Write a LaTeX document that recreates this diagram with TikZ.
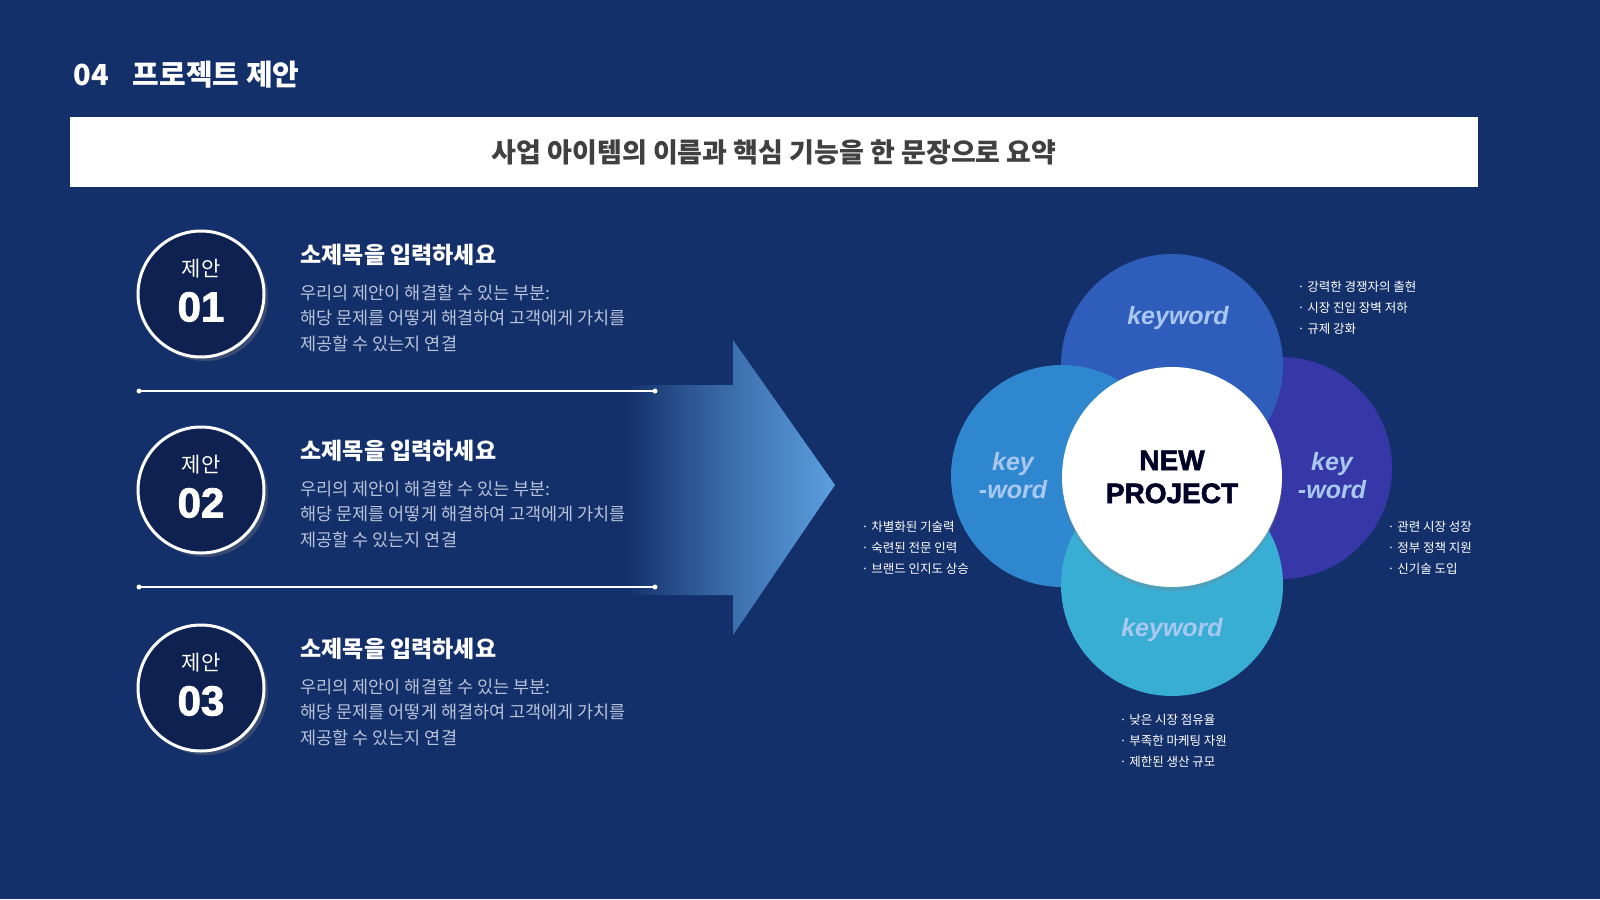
\documentclass[tikz,border=0pt]{standalone}
\usepackage{fontspec}
\setmainfont{Noto Sans CJK KR}
\newfontfamily\lat{Liberation Sans}
\newfontfamily\heavy[FakeBold=2]{Liberation Sans Bold}
\usetikzlibrary{shadows}
\definecolor{bg}{HTML}{14306A}
\definecolor{navy}{HTML}{0F2150}
\definecolor{body}{HTML}{B8C3DA}
\definecolor{kw}{HTML}{A9C8F0}
\definecolor{ctop}{HTML}{2F5DBB}
\definecolor{cleft}{HTML}{2F88CF}
\definecolor{cright}{HTML}{3638A8}
\definecolor{cbot}{HTML}{38AED5}
\definecolor{arr}{HTML}{5C9FE0}
\begin{document}
\begin{tikzpicture}[x=1pt,y=-1pt,
  num/.style={circle,minimum size=126pt,fill=navy,draw=white,line width=3pt,
    drop shadow={shadow xshift=4pt,shadow yshift=-4pt,opacity=.35}},
  sub/.style={anchor=west,text=white,font=\fontsize{23}{26}\selectfont\bfseries},
  bod/.style={anchor=north west,text=body,align=left,font=\fontsize{17.5}{25.5}\selectfont},
  petal/.style={circle,minimum size=222pt,inner sep=0pt},
  kwt/.style={text=kw,align=center,font=\lat\fontsize{25}{28}\selectfont\bfseries\itshape},
  note/.style={anchor=north west,text=white,align=left,font=\fontsize{12.5}{21}\selectfont},
  sep/.style={white,line width=1.5pt}]
\useasboundingbox (0,0) rectangle (1600,899);
\fill[bg] (0,0) rectangle (1600,899);
\node[anchor=west,text=white,font=\fontsize{29}{32}\selectfont\bfseries] (title) at (70,75) {04\hspace{24pt}프로젝트 제안};
\node[fill=white,minimum width=1408pt,minimum height=70pt,anchor=north west,inner sep=0pt,
  text=black!75,font=\fontsize{27}{30}\selectfont\bfseries] (banner) at (70,117) {사업 아이템의 이름과 핵심 기능을 한 문장으로 요약};
% arrow
\shade[left color=bg,right color=arr,middle color=bg!45!arr]
  (625,385) -- (733,385) -- (733,340) -- (835,485) -- (733,635) -- (733,595) -- (625,595) -- cycle;
\foreach \i/\y in {1/294,2/490,3/688}{
  \node[num] (c\i) at (201,\y) {};
  \node[text=white,font=\fontsize{21}{24}\selectfont] (l\i) at (201,\y-25) {제안};
  \node[text=white,font=\heavy\fontsize{42}{46}\selectfont] (n\i) at (201,\y+13) {0\i};
  \node[sub] (s\i) at (297,\y-39) {소제목을 입력하세요};
  \node[bod] (b\i) at (297,\y-13) {우리의 제안이 해결할 수 있는 부분:\\해당 문제를 어떻게 해결하여 고객에게 가치를\\제공할 수 있는지 연결};
}
\foreach \j/\y in {1/391,2/587}{
  \coordinate (sa\j) at (139,\y); \coordinate (sb\j) at (655,\y);
  \draw[sep] (sa\j) -- (sb\j);
  \fill[white] (sa\j) circle (2.5pt) (sb\j) circle (2.5pt);
}
% petals
\node[petal,fill=cright] (pr) at (1281,468) {};
\node[petal,fill=ctop] (pt) at (1172,365) {};
\node[petal,fill=cleft] (pl) at (1062,476) {};
\node[petal,fill=cbot] (pb) at (1172,585) {};
\node[circle,fill=white,minimum size=220pt,drop shadow={shadow xshift=0pt,shadow yshift=-4pt,opacity=.3}] (ctr) at (1172,477) {};
\node[text=black!85!blue,align=center,font=\heavy\fontsize{28}{33}\selectfont] (ct) at (1172,477) {NEW\\PROJECT};
\node[kwt] (kt) at (1178,318) {keyword};
\node[kwt] (kb) at (1172,630) {keyword};
\node[kwt] (kl) at (1013,476) {key\\-word};
\node[kwt] (kr) at (1332,476) {key\\-word};
\node[note] (nt) at (1294,278) {· 강력한 경쟁자의 출현\\· 시장 진입 장벽 저하\\· 규제 강화};
\node[note] (nl) at (858,518) {· 차별화된 기술력\\· 숙련된 전문 인력\\· 브랜드 인지도 상승};
\node[note] (nr) at (1384,518) {· 관련 시장 성장\\· 정부 정책 지원\\· 신기술 도입};
\node[note] (nb) at (1116,711) {· 낮은 시장 점유율\\· 부족한 마케팅 자원\\· 제한된 생산 규모};
\end{tikzpicture}
\end{document}
